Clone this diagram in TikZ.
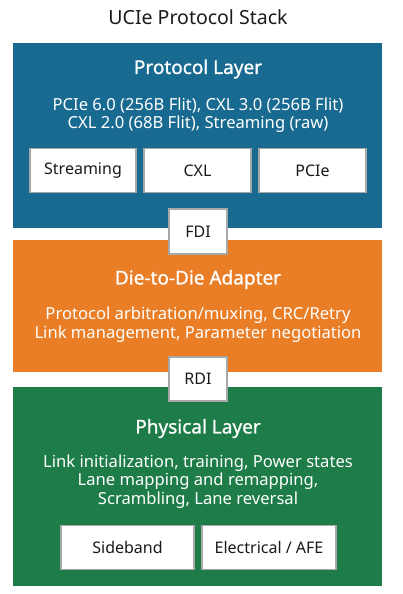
\documentclass[tikz,border=0pt]{standalone}
\usepackage{fontspec}
\setmainfont{Noto Sans}
\newfontfamily\headfont{Noto Sans}[FakeBold=1.0]
\definecolor{pblue}{HTML}{196A91}
\definecolor{dorange}{HTML}{E97E26}
\definecolor{pgreen}{HTML}{1D7C47}
\definecolor{bgray}{HTML}{A8A8A8}
\definecolor{ttext}{HTML}{1A1A1A}
\begin{document}
\begin{tikzpicture}[x=1pt,y=-1pt,
  layer/.style={draw=none,inner sep=0pt,anchor=north west},
  sub/.style={draw=bgray,line width=1.6pt,fill=white,inner sep=0pt,text=ttext,font=\fontsize{16}{18}\selectfont},
  head/.style={text=white,font=\fontsize{19}{21}\headfont},
  desc/.style={text=white,align=center,font=\fontsize{16.6}{18.5}\selectfont},
]
\useasboundingbox (0,0) rectangle (402,594);
% layers
\fill[pblue] (13,43) rectangle (382,228);
\node[layer,minimum width=369pt,minimum height=185pt] (proto) at (13,43) {};
\fill[dorange] (13,240) rectangle (382,372);
\node[layer,minimum width=369pt,minimum height=132pt] (d2d) at (13,240) {};
\fill[pgreen] (13,387) rectangle (382,586);
\node[layer,minimum width=369pt,minimum height=199pt] (phy) at (13,387) {};
% title
\node[text=ttext,font=\fontsize{19.5}{22}\selectfont] (title) at (198,17) {UCIe Protocol Stack};
% protocol layer
\node[head] (protoh) at (198,69) {Protocol Layer};
\node[desc] (protod) at (198,115) {PCIe 6.0 (256B Flit), CXL 3.0 (256B Flit)\\CXL 2.0 (68B Flit), Streaming (raw)};
\node[sub,minimum width=106pt,minimum height=44pt] (stream) at (83,170.5) {Streaming};
\node[sub,minimum width=107pt,minimum height=44pt] (cxl) at (197.5,170.5) {CXL};
\node[sub,minimum width=107pt,minimum height=44pt] (pcie) at (312.5,170.5) {PCIe};
% FDI
\node[sub,minimum width=58pt,minimum height=45pt] (fdi) at (198,231.5) {FDI};
% D2D
\node[head] (d2dh) at (198,279.5) {Die-to-Die Adapter};
\node[desc] (d2dd) at (198,324.5) {Protocol arbitration/muxing, CRC/Retry\\Link management, Parameter negotiation};
% RDI
\node[sub,minimum width=58pt,minimum height=44pt] (rdi) at (198,379) {RDI};
% Physical
\node[head] (phyh) at (198,428.5) {Physical Layer};
\node[desc] (phyd) at (198,481.5) {Link initialization, training, Power states\\Lane mapping and remapping,\\Scrambling, Lane reversal};
\node[sub,minimum width=133pt,minimum height=44pt] (side) at (127.5,547.5) {Sideband};
\node[sub,minimum width=134pt,minimum height=44pt] (elec) at (269,547.5) {Electrical / AFE};
\end{tikzpicture}
\end{document}
